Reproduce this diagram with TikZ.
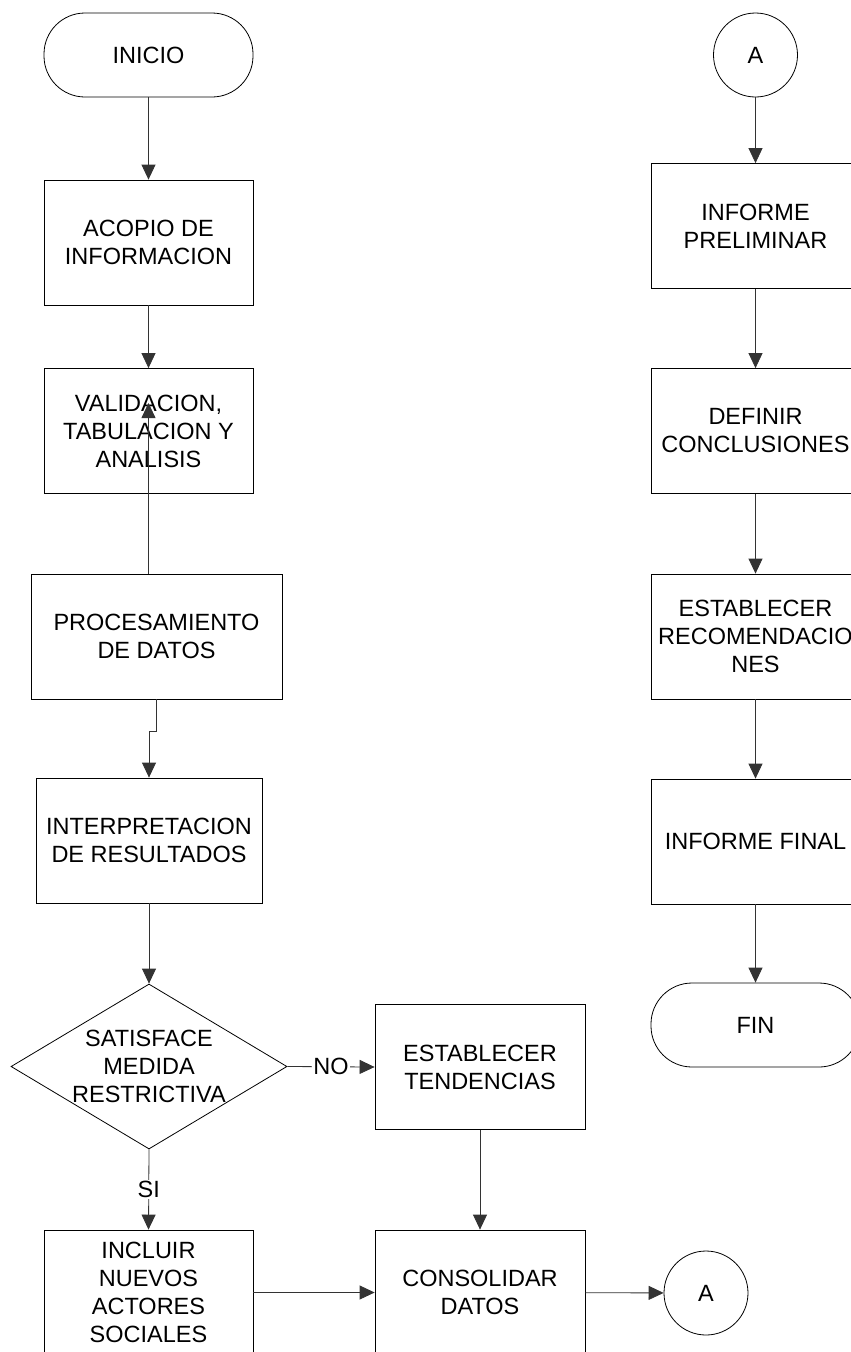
\documentclass[tikz,border=0pt]{standalone}
\usepackage{fontspec}
\setmainfont{Liberation Sans}
\usepackage{tikz}
\usetikzlibrary{arrows.meta,positioning,shapes.geometric}

\begin{document}
\begin{tikzpicture}[x=1pt,y=-1pt]
    % Styles
    \tikzstyle{every node}=[font=\fontsize{23.5}{28}\selectfont, align=center]
    \tikzstyle{caja}=[draw, line width=0.8pt, rectangle, minimum width=209pt, minimum height=125pt, inner sep=2pt]
    \tikzstyle{terminal}=[draw, line width=0.8pt, rectangle, rounded corners=41pt, minimum width=209pt, minimum height=84pt]
    \tikzstyle{conector}=[draw, line width=0.8pt, circle, minimum size=84pt, inner sep=0pt]
    \tikzstyle{rombo}=[draw, line width=0.8pt, diamond, minimum width=276pt, minimum height=165pt, inner sep=0pt]
    \tikzstyle{flecha}=[line width=0.8pt, black!80, -{Triangle[length=15pt,width=14pt]}]
    \tikzstyle{etiqueta}=[fill=white, text=black, inner sep=1pt]

    % Page frame
    \useasboundingbox (0,0) rectangle (851,1352);
    \clip (0,0) rectangle (851,1352);

    % Left column
    \node[terminal] (inicio) at (148.5,55) {INICIO};
    \node[caja] (acopio) at (148.5,242.5) {ACOPIO DE\\INFORMACION};
    \node[caja] (valid) at (148.5,431) {VALIDACION,\\TABULACION Y\\ANALISIS};
    \node[caja, minimum width=251pt] (proc) at (156.5,636.5) {PROCESAMIENTO\\DE DATOS};
    \node[caja, minimum width=226pt] (interp) at (149,840.5) {INTERPRETACION\\DE RESULTADOS};

    % Decision
    \node[rombo] (decision) at (149,1066.5) {};
    \node (pregunta) at (decision) {SATISFACE\\MEDIDA\\RESTRICTIVA};
    \node[caja, minimum width=210pt] (tend) at (480,1067) {ESTABLECER\\TENDENCIAS};
    \node[caja] (incluir) at (148.5,1292.5) {INCLUIR\\NUEVOS\\ACTORES\\SOCIALES};
    \node[caja, minimum width=210pt] (consol) at (480,1292.5) {CONSOLIDAR\\DATOS};
    \node[conector] (asal) at (706,1293) {A};

    % Right column
    \node[conector] (aent) at (755.5,55) {A};
    \node[caja] (prelim) at (755.5,226) {INFORME\\PRELIMINAR};
    \node[caja] (concl) at (755.5,431) {DEFINIR\\CONCLUSIONES};
    \node[caja] (recom) at (755.5,636.5) {ESTABLECER\\RECOMENDACIO\\NES};
    \node[caja] (final) at (755.5,841.5) {INFORME FINAL};
    \node[terminal] (fin) at (755.5,1025) {FIN};

    % Connectors, left
    \draw[flecha] (inicio) -- (acopio);
    \draw[flecha] (acopio) -- (valid);
    \coordinate (subida) at (148.5,403);
    \draw[flecha] (valid.south |- proc.north) -- (subida);
    \draw[flecha] (proc.south) -- ++(0,32) -| (interp.north);
    \draw[flecha] (interp) -- (decision);
    \draw[flecha] (decision.east) -- (tend.west) node[etiqueta, midway] {NO};
    \draw[flecha] (decision.south) -- (incluir.north) node[etiqueta, midway] {SI};
    \draw[flecha] (tend) -- (consol);
    \draw[flecha] (incluir) -- (consol);
    \draw[flecha] (consol) -- (asal);

    % Connectors, right
    \draw[flecha] (aent) -- (prelim);
    \draw[flecha] (prelim) -- (concl);
    \draw[flecha] (concl) -- (recom);
    \draw[flecha] (recom) -- (final);
    \draw[flecha] (final) -- (fin);

\end{tikzpicture}
\end{document}
